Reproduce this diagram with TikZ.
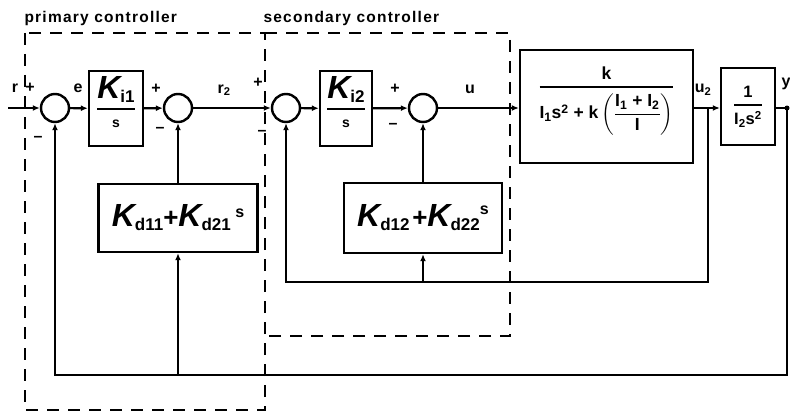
\documentclass[tikz,border=0pt]{standalone}
\usepackage{amsmath}
\usepackage{fontspec}
\setmainfont{Liberation Sans}
\usetikzlibrary{arrows.meta, positioning, calc}

\newcommand{\gainK}[1]{{\fontsize{32}{32}\selectfont\itshape K}\raisebox{-4pt}{\fontsize{17}{17}\selectfont #1}}
\newcommand{\thickfrac}[2]{\genfrac{}{}{1.8pt}{0}{#1}{#2}}

\begin{document}
\begin{tikzpicture}[
    x=1pt, y=-1pt,
    font=\bfseries\fontsize{16}{18}\selectfont,
    sum/.style={draw, circle, line width=2.4pt, minimum size=28pt, inner sep=0pt},
    blk/.style={draw, line width=2.4pt, inner sep=0pt},
    sig/.style={line width=2.2pt},
    arr/.style={sig, -{Latex[length=7pt,width=6pt]}},
    ctrl/.style={line width=2.4pt, dash pattern=on 12pt off 9pt},
    lbl/.style={inner sep=1pt},
    tag/.style={anchor=base west, font=\bfseries\fontsize{15.5}{18}\selectfont\addfontfeature{LetterSpace=8}}
  ]
  \useasboundingbox (0,0) rectangle (790,412);

  % ===== controller frames =====
  \draw[ctrl] (25,33) rectangle (265,410);
  \draw[ctrl] (265,33) -- (510,33) -- (510,336) -- (265,336);
  \node[tag] (ptag) at (21,23) {primary controller};
  \node[tag] (stag) at (260,23) {secondary controller};

  % ===== forward path =====
  \node[sum] (sum1) at (55,108) {};
  \node[blk, minimum width=54pt, minimum height=75pt] (ki1) at (116,108.5) {};
  \node[anchor=base, font=\bfseries\fontsize{14}{16}\selectfont] (ki1f) at (116,112.5) {$\thickfrac{\text{\gainK{i1}}}{\text{\rule{0pt}{12pt}s}}$};
  \node[sum] (sum2) at (178,108) {};
  \node[sum] (sum3) at (286,108) {};
  \node[blk, minimum width=52pt, minimum height=75pt] (ki2) at (346,108.5) {};
  \node[anchor=base, font=\bfseries\fontsize{14}{16}\selectfont] (ki2f) at (346,112.5) {$\thickfrac{\text{\gainK{i2}}}{\text{\rule{0pt}{12pt}s}}$};
  \node[sum] (sum4) at (423,108) {};
  \node[blk, minimum width=173pt, minimum height=113pt] (plant) at (606.5,106.5) {};
  \node[anchor=base, font=\bfseries\fontsize{17.5}{20}\selectfont] (plantf) at (606.5,91.5) {$\thickfrac{\text{k}}{\text{I}_{\text{1}}\text{s}^{\text{2}}\text{ + k}\left(\dfrac{\text{I}_{\text{1}}\text{ + I}_{\text{2}}}{\text{I}}\right)}$};
  \node[blk, minimum width=54pt, minimum height=77pt] (plant2) at (748,106.5) {};
  \node[anchor=base, font=\bfseries\fontsize{16.5}{18}\selectfont] (plant2f) at (748,109.5) {$\thickfrac{\text{1}}{\text{I}_{\text{2}}\text{s}^{\text{2}}}$};

  % ===== derivative blocks =====
  \node[blk, minimum width=159pt, minimum height=68pt] (kd1) at (178,218)
    {\gainK{d11}{\fontsize{26}{26}\selectfont+}\gainK{d21}\ \raisebox{9pt}{s}};
  \node[blk, minimum width=158pt, minimum height=70pt] (kd2) at (423,218)
    {\gainK{d12}\,{\fontsize{26}{26}\selectfont+}\gainK{d22}\raisebox{12pt}{s}};

  \coordinate (rin) at (8,108);
  \coordinate (u2tap) at (708,108);
  \coordinate (ytap) at (787,108);
  \coordinate (inlow) at (708,282);
  \coordinate (outlow) at (787,375);

  % Connections
  \draw[arr] (rin) -- (sum1);
  \draw[arr] (sum1) -- (ki1);
  \draw[arr] (ki1) -- (sum2);
  \draw[arr] (sum2) -- (sum3);
  \draw[arr] (sum3) -- (ki2);
  \draw[arr] (ki2) -- (sum4);
  \draw[arr] (sum4) -- (sum4 -| plant.west);
  \draw[arr] (sum4 -| plant.east) -- (sum4 -| plant2.west);
  \draw[sig] (sum4 -| plant2.east) -- (ytap);
  \fill (ytap) circle (2.5pt);

  % inner loop
  \draw[arr] (u2tap) -- (inlow) -- (sum3 |- inlow) -- (sum3);
  \draw[arr] (kd2 |- inlow) -- (kd2);
  \draw[arr] (kd2) -- (sum4);

  % outer loop
  \draw[arr] (ytap) -- (outlow) -- (sum1 |- outlow) -- (sum1);
  \draw[arr] (kd1 |- outlow) -- (kd1);
  \draw[arr] (kd1) -- (sum2);

  % ===== labels =====
  \node[lbl] (rlab) at (15,88) {r};
  \node[lbl] (rplus) at (30,88) {+};
  \node[lbl] (fminus1) at (38,139) {--};
  \node[lbl] (elab) at (78,88) {e};
  \node[lbl] (iplus1) at (156,89) {+};
  \node[lbl] (dminus1) at (160,130) {--};
  \node[lbl] (r2lab) at (224,90) {r\textsubscript{2}};
  \node[lbl] (rplus2) at (258,83) {+};
  \node[lbl] (fminus2) at (262,133) {--};
  \node[lbl] (iplus2) at (395,89) {+};
  \node[lbl] (dminus2) at (393,126) {--};
  \node[lbl] (ulab) at (470,89) {u};
  \node[lbl] (u2lab) at (703,90) {u\textsubscript{2}};
  \node[lbl] (ylab) at (786,84) {y};
\end{tikzpicture}
\end{document}
